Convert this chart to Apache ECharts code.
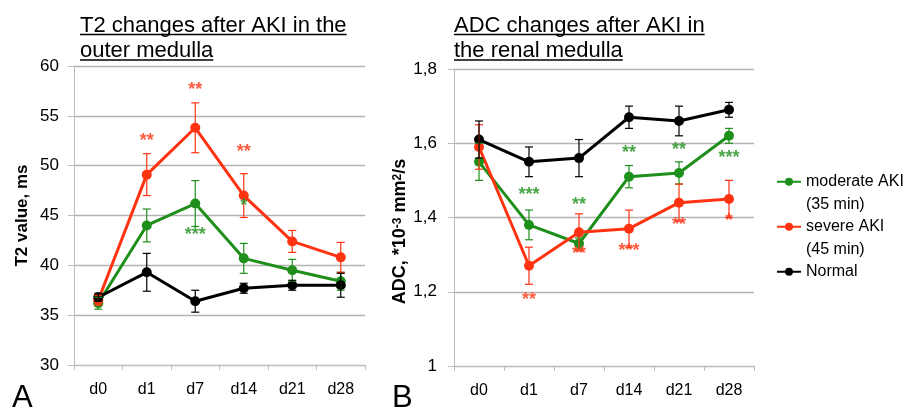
<!DOCTYPE html>
<html>
<head>
<meta charset="utf-8">
<script src="https://cdn.jsdelivr.net/npm/echarts@6/dist/echarts.min.js"></script>
<style>
  html, body { margin: 0; padding: 0; background: #fff; }
  #chart { width: 908px; height: 408px; }
</style>
</head>
<body>
<div id="chart"></div>
<script>
var days = ['d0', 'd1', 'd7', 'd14', 'd21', 'd28']

// T2 value (ms), outer medulla
var t2Moderate = [36.2, 44.0, 46.2, 40.7, 39.5, 38.4]
var t2ModerateErr = [0.6, 1.65, 2.3, 1.5, 1.1, 0.9]
var t2Severe = [36.5, 49.1, 53.8, 47.0, 42.4, 40.8]
var t2SevereErr = [0.5, 2.1, 2.5, 2.2, 1.1, 1.5]
var t2Normal = [36.8, 39.3, 36.4, 37.7, 38.0, 38.0]
var t2NormalErr = [0.4, 1.9, 1.1, 0.5, 0.5, 1.2]

var t2SevereStars = ['', '**', '**', '**', '', '']
var t2SevereStarY = [null, 52.8, 57.9, 51.7, null, null]
var t2ModerateStars = ['', '', '***', '*', '', '']
var t2ModerateStarY = [null, null, 43.3, 46.3, null, null]

// ADC (*10^-3 mm2/s), renal medulla
var adcModerate = [1.55, 1.38, 1.33, 1.51, 1.52, 1.62]
var adcModerateErr = [0.05, 0.04, 0.015, 0.03, 0.03, 0.02]
var adcSevere = [1.59, 1.27, 1.36, 1.37, 1.44, 1.45]
var adcSevereErr = [0.06, 0.05, 0.05, 0.05, 0.05, 0.05]
var adcNormal = [1.61, 1.55, 1.56, 1.67, 1.66, 1.69]
var adcNormalErr = [0.05, 0.04, 0.05, 0.03, 0.04, 0.02]

var adcModerateStars = ['', '***', '**', '**', '**', '***']
var adcModerateStarY = [null, 1.468, 1.441, 1.582, 1.591, 1.568]
var adcSevereStars = ['', '**', '**', '***', '**', '*']
var adcSevereStarY = [null, 1.185, 1.31, 1.317, 1.387, 1.398]

var moderateName = 'moderate AKI\n(35 min)'
var severeName = 'severe AKI\n(45 min)'
var normalName = 'Normal'

var RED = '#ff3311'
var GREEN = '#1f8f1c'
var BLACK = '#000000'
var FONT = '"Liberation Sans", Arial, sans-serif'

function lineSeries(name, vals, idx, color) {
  return {
    type: 'line', name: name, xAxisIndex: idx, yAxisIndex: idx,
    data: vals, symbol: 'circle', symbolSize: 10, z: 3,
    itemStyle: { color: color },
    lineStyle: { color: color, width: 3 }
  }
}

function errorSeries(name, vals, errs, idx, color) {
  return {
    type: 'custom', name: name + ' err', xAxisIndex: idx, yAxisIndex: idx, z: 4,
    data: vals.map(function (v, i) { return [i, v - errs[i], v + errs[i]] }),
    encode: { x: 0, y: [1, 2] },
    renderItem: function (params, api) {
      var lo = api.coord([api.value(0), api.value(1)])
      var hi = api.coord([api.value(0), api.value(2)])
      var w = 4
      var st = { stroke: color, lineWidth: 1.2 }
      return {
        type: 'group',
        children: [
          { type: 'line', shape: { x1: hi[0], y1: hi[1], x2: lo[0], y2: lo[1] }, style: st },
          { type: 'line', shape: { x1: hi[0] - w, y1: hi[1], x2: hi[0] + w, y2: hi[1] }, style: st },
          { type: 'line', shape: { x1: lo[0] - w, y1: lo[1], x2: lo[0] + w, y2: lo[1] }, style: st }
        ]
      }
    }
  }
}

function starSeries(stars, ys, idx, color) {
  var data = []
  stars.forEach(function (s, i) {
    if (s) data.push([i, ys[i], s])
  })
  return {
    type: 'scatter', xAxisIndex: idx, yAxisIndex: idx, symbolSize: 0, z: 5,
    data: data,
    label: {
      show: true, position: 'inside', offset: [0, 3],
      formatter: function (p) { return p.value[2] },
      color: color, fontSize: 18, fontWeight: 'bold', fontFamily: FONT
    }
  }
}

function xAxis(idx) {
  return {
    type: 'category', gridIndex: idx, data: days, boundaryGap: true,
    axisLine: { lineStyle: { color: '#bdbdbd', width: 1 } },
    axisTick: { show: true, length: 5, lineStyle: { color: '#bdbdbd' } },
    axisLabel: { fontSize: 16, color: '#000', margin: 17, fontFamily: FONT }
  }
}

function adcLabel(v) {
  return String(+v.toFixed(1)).replace('.', ',')
}

// legend text is padded to three lines so the first line sits level with the icon
function legendLabel(name) {
  var parts = name.split('\n')
  if (parts.length > 1) return ' \n' + parts[0] + '\n' + parts[1]
  return ' \n' + name + '\n '
}

// underline helpers for the titles
var TITLE_FONT = '22px "Liberation Sans"'
var measure = document.createElement('canvas').getContext('2d')
measure.font = TITLE_FONT
function textW(t) { return measure.measureText(t).width }

function titleGraphic(x, lines) {
  var items = [{
    type: 'text', left: x, top: 13,
    style: { text: lines.join('\n'), font: TITLE_FONT, lineHeight: 25.5, fill: '#000' }
  }]
  lines.forEach(function (t, i) {
    var y = 34.5 + i * 25.5
    items.push({
      type: 'line', shape: { x1: x, y1: y, x2: x + textW(t), y2: y },
      style: { stroke: '#000', lineWidth: 1.3 }
    })
  })
  return items
}

var chart = echarts.init(document.getElementById('chart'))
chart.setOption({
  animation: false,
  textStyle: { fontFamily: FONT },
  grid: [
    { left: 74, top: 66, width: 291, height: 299 },
    { left: 454, top: 69, width: 300, height: 297 }
  ],
  xAxis: [xAxis(0), xAxis(1)],
  yAxis: [{
    type: 'value', gridIndex: 0, min: 30, max: 60, interval: 5,
    name: 'T2 value, ms', nameLocation: 'middle', nameGap: 43,
    nameTextStyle: { fontSize: 17, fontWeight: 'bold', color: '#000', fontFamily: FONT },
    axisLine: { show: true, lineStyle: { color: '#bdbdbd' } },
    axisTick: { show: true, length: 6, lineStyle: { color: '#bdbdbd' } },
    axisLabel: { fontSize: 17, color: '#000', margin: 15, fontFamily: FONT },
    splitLine: { lineStyle: { color: '#b3b3b3', width: 1.3 } }
  }, {
    type: 'value', gridIndex: 1, min: 1, max: 1.8, interval: 0.2,
    name: '{b|ADC, *10}{s|-3}{b| mm}{s|2}{b|/s}', nameLocation: 'middle', nameGap: 41,
    nameTextStyle: {
      padding: [0, 28, 0, 0],
      rich: {
        b: { fontSize: 18, fontWeight: 'bold', color: '#000', fontFamily: FONT },
        s: { fontSize: 12, fontWeight: 'bold', color: '#000', fontFamily: FONT, verticalAlign: 'top', padding: [0, 0, 6, 0] }
      }
    },
    axisLine: { show: true, lineStyle: { color: '#bdbdbd' } },
    axisTick: { show: true, length: 6, lineStyle: { color: '#bdbdbd' } },
    axisLabel: { fontSize: 17, color: '#000', margin: 17, fontFamily: FONT, formatter: adcLabel },
    splitLine: { lineStyle: { color: '#b3b3b3', width: 1.3 } }
  }],
  legend: {
    orient: 'vertical', left: 771, top: 143, itemWidth: 24, itemHeight: 10, itemGap: -22.5,
    formatter: legendLabel,
    textStyle: { fontSize: 16, lineHeight: 22.5, color: '#000', fontFamily: FONT },
    data: [moderateName, severeName, normalName]
  },
  graphic: titleGraphic(80, ['T2 changes after AKI in the', 'outer medulla'])
    .concat(titleGraphic(454, ['ADC changes after AKI in', 'the renal medulla']))
    .concat([
      { type: 'text', left: 12, top: 383, style: { text: 'A', font: '31px "Liberation Sans"', fill: '#000' } },
      { type: 'text', left: 392, top: 383, style: { text: 'B', font: '31px "Liberation Sans"', fill: '#000' } }
    ]),
  series: [
    lineSeries(moderateName, t2Moderate, 0, GREEN),
    lineSeries(severeName, t2Severe, 0, RED),
    lineSeries(normalName, t2Normal, 0, BLACK),
    errorSeries('moderate', t2Moderate, t2ModerateErr, 0, GREEN),
    errorSeries('severe', t2Severe, t2SevereErr, 0, RED),
    errorSeries('normal', t2Normal, t2NormalErr, 0, BLACK),
    starSeries(t2SevereStars, t2SevereStarY, 0, RED),
    starSeries(t2ModerateStars, t2ModerateStarY, 0, GREEN),

    lineSeries(moderateName, adcModerate, 1, GREEN),
    lineSeries(severeName, adcSevere, 1, RED),
    lineSeries(normalName, adcNormal, 1, BLACK),
    errorSeries('moderate', adcModerate, adcModerateErr, 1, GREEN),
    errorSeries('severe', adcSevere, adcSevereErr, 1, RED),
    errorSeries('normal', adcNormal, adcNormalErr, 1, BLACK),
    starSeries(adcModerateStars, adcModerateStarY, 1, GREEN),
    starSeries(adcSevereStars, adcSevereStarY, 1, RED)
  ]
})
</script>
</body>
</html>
